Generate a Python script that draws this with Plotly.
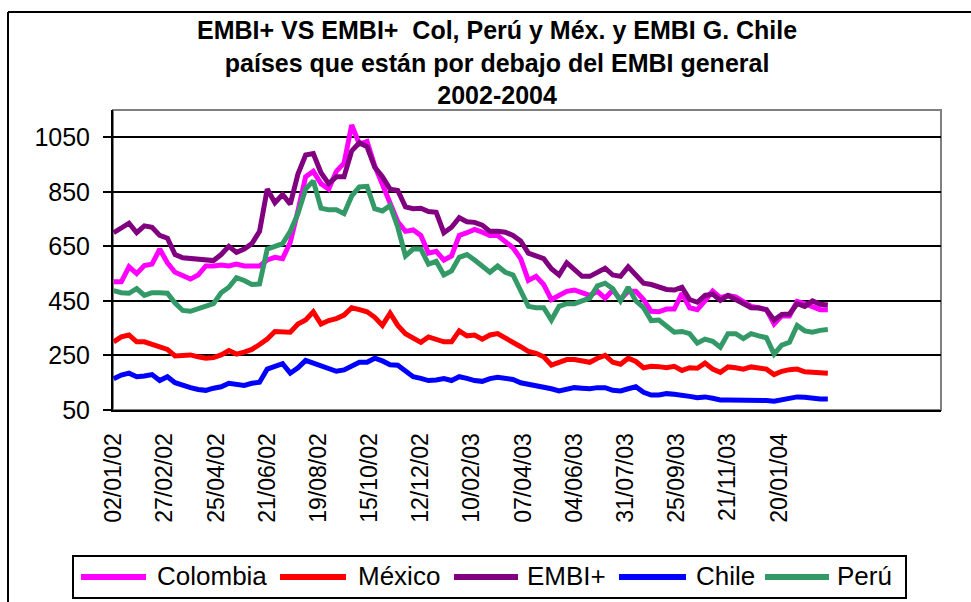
import plotly.graph_objects as go

# sample positions: business-day index of each reading (every 6th day)
step = 6
tick_labels = ["02/01/02", "27/02/02", "25/04/02", "21/06/02", "19/08/02", "15/10/02",
               "12/12/02", "10/02/03", "07/04/03", "04/06/03", "31/07/03", "25/09/03",
               "21/11/03", "20/01/04"]
tick_every = 40
n_categories = 647
y_ticks = [50, 250, 450, 650, 850, 1050]

colombia = [520, 520, 575, 550, 580, 585, 640, 590, 555, 540,
            530, 545, 578, 578, 582, 578, 585, 578, 578, 578,
            600, 610, 605, 665, 780, 905, 925, 880, 860, 925,
            955, 1095, 1025, 1035, 945, 880, 810, 740, 705, 710,
            690, 625, 632, 600, 615, 690, 700, 712, 702, 690,
            690, 670, 645, 605, 525, 540, 510, 455, 470, 485,
            490, 480, 470, 485, 460, 490, 455, 485, 485, 455,
            412, 410, 420, 420, 478, 425, 418, 450, 486, 462,
            470, 465, 450, 430, 425, 418, 365, 395, 395, 448,
            440, 430, 418, 418]

mexico = [300, 318, 325, 300, 300, 290, 282, 272, 248, 248,
          252, 245, 240, 242, 252, 268, 255, 262, 272, 290,
          310, 338, 335, 335, 365, 380, 410, 365, 378, 385,
          398, 425, 418, 410, 390, 360, 405, 360, 330, 315,
          298, 318, 310, 300, 300, 340, 322, 325, 310, 325,
          330, 315, 302, 282, 265, 258, 245, 215, 225, 235,
          235, 228, 225, 240, 250, 225, 218, 240, 228, 205,
          210, 209, 205, 210, 195, 205, 203, 222, 200, 188,
          208, 205, 200, 208, 203, 200, 180, 192, 198, 200,
          190, 188, 185, 185]

embi = [700, 720, 735, 700, 725, 720, 690, 680, 620, 608,
        605, 600, 600, 598, 620, 650, 628, 640, 660, 705,
        860, 810, 840, 805, 915, 985, 990, 920, 880, 905,
        905, 1000, 1030, 1015, 940, 905, 860, 855, 795, 788,
        790, 778, 775, 700, 720, 755, 740, 738, 728, 705,
        705, 702, 690, 670, 625, 615, 605, 568, 545, 590,
        562, 540, 540, 555, 570, 545, 540, 575, 545, 515,
        510, 500, 492, 490, 500, 455, 445, 470, 475, 452,
        470, 455, 440, 425, 424, 418, 380, 400, 402, 440,
        430, 450, 438, 435]

chile = [165, 178, 185, 172, 175, 180, 158, 172, 150, 140,
         132, 125, 122, 130, 135, 148, 143, 140, 148, 152,
         200, 212, 220, 185, 205, 232, 222, 210, 200, 192,
         197, 210, 225, 225, 240, 230, 216, 214, 190, 172,
         166, 158, 160, 165, 158, 172, 166, 158, 155, 165,
         170, 168, 162, 150, 145, 138, 135, 128, 120, 128,
         132, 130, 128, 132, 132, 122, 120, 128, 135, 115,
         105, 105, 110, 108, 106, 100, 95, 98, 93, 87,
         87, 87, 87, 87, 87, 85, 82, 87, 92, 98,
         97, 92, 90, 90]

peru = [488, 480, 478, 495, 470, 480, 480, 478, 442, 415,
        412, 420, 428, 440, 480, 500, 535, 525, 510, 512,
        640, 650, 660, 705, 770, 860, 890, 790, 784, 784,
        770, 835, 868, 870, 788, 780, 800, 720, 615, 640,
        640, 585, 595, 545, 560, 610, 620, 600, 575, 555,
        578, 555, 545, 490, 430, 425, 425, 380, 430, 440,
        440, 450, 460, 505, 515, 495, 450, 500, 450, 425,
        378, 380, 360, 335, 338, 330, 295, 310, 302, 280,
        330, 330, 312, 330, 322, 315, 255, 288, 298, 360,
        340, 335, 342, 345]

series_names = ["Colombia", "México", "EMBI+", "Chile", "Perú"]
series_values = [colombia, mexico, embi, chile, peru]
series_colors = ["#FF00FF", "#FF0000", "#800080", "#0000FF", "#339966"]

FONT = "Liberation Sans, Arial, sans-serif"

# layout geometry (pixels)
W, H = 971, 602
PL, PR, PT, PB = 113, 941, 110, 410
pw, ph = PR - PL, PB - PT


def px(x):
    return (x - PL) / pw


def py(y):
    return (PB - y) / ph


fig = go.Figure()
for name, vals, col in zip(series_names, series_values, series_colors):
    xs = list(range(0, step * len(vals), step))
    fig.add_trace(go.Scatter(x=xs, y=vals, name=name, mode="lines",
                             line=dict(color=col, width=5), showlegend=False))

tickvals = [k * tick_every for k in range(len(tick_labels))]

shapes = [
    dict(type="rect", xref="paper", yref="paper", x0=0, x1=1, y0=0, y1=1,
         line=dict(color="#808080", width=2), layer="below"),
    dict(type="line", xref="paper", yref="paper", x0=px(8), x1=px(8),
         y0=py(12), y1=py(700), line=dict(color="black", width=2)),
    dict(type="line", xref="paper", yref="paper", x0=px(8), x1=px(1100),
         y0=py(12), y1=py(12), line=dict(color="black", width=2)),
    # legend box
    dict(type="rect", xref="paper", yref="paper", x0=px(73), x1=px(906),
         y0=py(556), y1=py(598), line=dict(color="black", width=2), fillcolor="white"),
]
annotations = [
    dict(text="<b>EMBI+ VS EMBI+  Col, Perú y Méx. y EMBI G. Chile</b><br>"
              "<b>países que están por debajo del EMBI general</b><br><b>2002-2004</b>",
         xref="paper", yref="paper", x=px(497), y=py(63),
         xanchor="center", yanchor="middle", showarrow=False,
         font=dict(size=25, family=FONT, color="black"), align="center"),
]

# custom legend (long line samples as in the original)
leg_lines = [(81, 146), (280, 346), (454, 518), (619, 686), (765, 829)]
leg_text_center = [212, 399, 566, 725, 864]
leg_y = 577
for name, col, (lx0, lx1), tc in zip(series_names, series_colors, leg_lines, leg_text_center):
    shapes.append(dict(type="line", xref="paper", yref="paper", x0=px(lx0), x1=px(lx1),
                       y0=py(leg_y), y1=py(leg_y), line=dict(color=col, width=6)))
    annotations.append(dict(text=name, xref="paper", yref="paper", x=px(tc), y=py(leg_y - 1),
                            xanchor="center", yanchor="middle", showarrow=False,
                            font=dict(size=26, family=FONT, color="black")))

fig.update_layout(
    width=W, height=H,
    margin=dict(l=PL, r=W - PR, t=PT, b=H - PB, autoexpand=False),
    paper_bgcolor="white", plot_bgcolor="white",
    font=dict(family=FONT, color="black"),
    showlegend=False,
    xaxis=dict(range=[-0.5, n_categories - 0.6], tickmode="array", tickvals=tickvals,
               ticktext=tick_labels, tickangle=-90, tickfont=dict(size=23, family=FONT),
               showgrid=False, zeroline=False, showline=True, linecolor="black", linewidth=2,
               ticks="", ticklabelstandoff=12, automargin=False),
    yaxis=dict(range=[50, 1150], tickmode="array", tickvals=y_ticks,
               tickfont=dict(size=25, family=FONT), showgrid=True, gridcolor="black",
               gridwidth=1.5, zeroline=False, showline=True, linecolor="black", linewidth=2,
               ticks="outside", ticklen=8, tickwidth=1.5, tickcolor="black",
               ticklabelstandoff=8, automargin=False),
    shapes=shapes,
    annotations=annotations,
)

fig.write_html("out.html", config={"displayModeBar": False},
               post_script="document.body.style.margin='0';document.body.style.overflow='hidden';")
